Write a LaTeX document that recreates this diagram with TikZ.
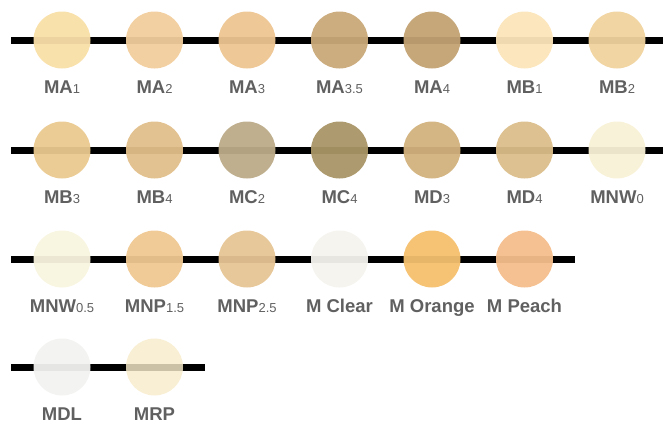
\documentclass[tikz,border=0pt]{standalone}
\usepackage{fontspec}
\setmainfont{Liberation Sans}
\usepackage{tikz}
\usetikzlibrary{positioning,calc}
\definecolor{labelGray}{HTML}{606060}
\definecolor{cMAa}{HTML}{F9DFA8}
\definecolor{cMAb}{HTML}{F2CD9C}
\definecolor{cMAc}{HTML}{EEC592}
\definecolor{cMAcc}{HTML}{C9A979}
\definecolor{cMAd}{HTML}{C2A273}
\definecolor{cMBa}{HTML}{FCE5BA}
\definecolor{cMBb}{HTML}{F0D39E}
\definecolor{cMBc}{HTML}{EAC98F}
\definecolor{cMBd}{HTML}{E2BF8B}
\definecolor{cMCb}{HTML}{BCAB88}
\definecolor{cMCd}{HTML}{A99566}
\definecolor{cMDc}{HTML}{D2B27D}
\definecolor{cMDd}{HTML}{DBBE8A}
\definecolor{cMNWa}{HTML}{F8F1D6}
\definecolor{cMNWb}{HTML}{F8F4DE}
\definecolor{cMNPa}{HTML}{EFC892}
\definecolor{cMNPb}{HTML}{E6C595}
\definecolor{cClear}{HTML}{F4F3EE}
\definecolor{cOrange}{HTML}{F5C06E}
\definecolor{cPeach}{HTML}{F5BE8C}
\definecolor{cMDL}{HTML}{F2F2F1}
\definecolor{cMRP}{HTML}{F7ECCB}
\newcommand{\subsize}{\fontsize{13}{13}\selectfont\mdseries}
\tikzset{
 swatchdot/.style={circle, draw=none, minimum size=57pt, inner sep=0pt, fill opacity=0.95},
 swatchlabel/.style={anchor=base, inner sep=0pt, text=labelGray, font=\bfseries\fontsize{18.5}{20}\selectfont},
 rowline/.style={line width=7pt, black}
}
\newcommand{\swatch}[7][]{%
 \node[swatchdot, fill=#5, #1] (#4) at (#2,#3) {};%
 \node[swatchlabel] (#4-l) at ($(#4.center)+(0,53)$) {#6{\subsize #7}};%
}

\begin{document}
\begin{tikzpicture}[x=1pt, y=-1pt]
\useasboundingbox (0,0) rectangle (663,423);
% row lines
\coordinate (row1a) at (11,40);
\coordinate (row1b) at (670,40);
\coordinate (row2a) at (11,150);
\coordinate (row2b) at (670,150);
\coordinate (row3a) at (11,259);
\coordinate (row3b) at (575,259);
\coordinate (row4a) at (11,367);
\coordinate (row4b) at (205,367);
\draw[rowline] (row1a) -- (row1b);
\draw[rowline] (row2a) -- (row2b);
\draw[rowline] (row3a) -- (row3b);
\draw[rowline] (row4a) -- (row4b);
% row 1
\swatch{62}{40}{ma1}{cMAa}{MA}{1}
\swatch{154.5}{40}{ma2}{cMAb}{MA}{2}
\swatch{247}{40}{ma3}{cMAc}{MA}{3}
\swatch{339.5}{40}{ma35}{cMAcc}{MA}{3.5}
\swatch{432}{40}{ma4}{cMAd}{MA}{4}
\swatch{524.5}{40}{mb1}{cMBa}{MB}{1}
\swatch{617}{40}{mb2}{cMBb}{MB}{2}
% row 2
\swatch{62}{150}{mb3}{cMBc}{MB}{3}
\swatch{154.5}{150}{mb4}{cMBd}{MB}{4}
\swatch{247}{150}{mc2}{cMCb}{MC}{2}
\swatch{339.5}{150}{mc4}{cMCd}{MC}{4}
\swatch{432}{150}{md3}{cMDc}{MD}{3}
\swatch{524.5}{150}{md4}{cMDd}{MD}{4}
\swatch{617}{150}{mnw0}{cMNWa}{MNW}{0}
% row 3
\swatch{62}{259}{mnw05}{cMNWb}{MNW}{0.5}
\swatch{154.5}{259}{mnp15}{cMNPa}{MNP}{1.5}
\swatch{247}{259}{mnp25}{cMNPb}{MNP}{2.5}
\swatch{339.5}{259}{mclear}{cClear}{M Clear}{}
\swatch{432}{259}{morange}{cOrange}{M Orange}{}
\swatch{524.5}{259}{mpeach}{cPeach}{M Peach}{}
% row 4
\swatch{62}{367}{mdl}{cMDL}{MDL}{}
\swatch[fill opacity=0.82]{154.5}{367}{mrp}{cMRP}{MRP}{}
\end{tikzpicture}
\end{document}
